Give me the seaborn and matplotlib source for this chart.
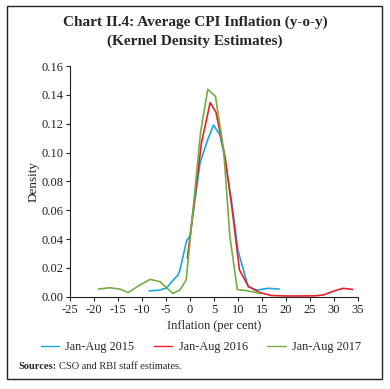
import numpy as np
import pandas as pd
import matplotlib
matplotlib.use("Agg")
import matplotlib.pyplot as plt
import seaborn as sns
from matplotlib.patches import Rectangle
from matplotlib.lines import Line2D

# --- data ---
x_2015 = [-8.5, -6.5, -4.9, -3.5, -2.5, -2.1, -0.7, 0.0, 2.1, 3.8, 4.9, 6.25, 7.3, 8.7, 10.0, 12.1, 13.9, 16.3, 18.6]
y_2015 = [0.004, 0.0045, 0.006, 0.0115, 0.015, 0.0185, 0.039, 0.042, 0.093, 0.110, 0.119, 0.112, 0.095, 0.065, 0.032, 0.007, 0.0046, 0.0058, 0.0053]

x_2016 = [-0.55, 2.4, 4.2, 5.4, 7.3, 8.8, 10.3, 12.2, 14.6, 17.0, 20.0, 23.0, 26.0, 27.8, 30.0, 31.9, 33.9]
y_2016 = [0.0266, 0.107, 0.1346, 0.128, 0.097, 0.060, 0.0185, 0.007, 0.0028, 0.0008, 0.0005, 0.0005, 0.0006, 0.0012, 0.004, 0.0058, 0.005]

x_2017 = [-19.1, -16.7, -14.5, -12.9, -10.5, -8.3, -6.25, -3.6, -2.1, -0.8, 2.2, 3.7, 5.3, 7.0, 8.3, 9.85, 11.8, 14.6]
y_2017 = [0.0053, 0.0062, 0.0052, 0.0028, 0.008, 0.012, 0.0104, 0.0023, 0.0046, 0.0116, 0.114, 0.1438, 0.139, 0.102, 0.042, 0.005, 0.0042, 0.0023]

series_names = ["Jan-Aug 2015", "Jan-Aug 2016", "Jan-Aug 2017"]
colors = ["#1ca6e0", "#e8202a", "#76ad42"]

x_ticks = [-25, -20, -15, -10, -5, 0, 5, 10, 15, 20, 25, 30, 35]
y_ticks = [0.00, 0.02, 0.04, 0.06, 0.08, 0.10, 0.12, 0.14, 0.16]

df = pd.concat([
    pd.DataFrame({"x": x_2015, "y": y_2015, "series": series_names[0]}),
    pd.DataFrame({"x": x_2016, "y": y_2016, "series": series_names[1]}),
    pd.DataFrame({"x": x_2017, "y": y_2017, "series": series_names[2]}),
], ignore_index=True)

sns.set_theme(style="ticks")
plt.rcParams["font.family"] = ["Liberation Serif", "DejaVu Serif"]

fig = plt.figure(figsize=(3.9, 3.89), dpi=100)
ax = fig.add_axes([0.1795, 0.2373, 0.7385, 0.593])

sns.lineplot(data=df, x="x", y="y", hue="series", palette=dict(zip(series_names, colors)),
             sort=False, estimator=None, linewidth=1.2, ax=ax, legend=False)

ax.set_xlim(-25, 35)
ax.set_ylim(0, 0.16)
ax.set_xticks(x_ticks)
ax.set_xticklabels([str(t) for t in x_ticks])
ax.set_yticks(y_ticks)
ax.set_yticklabels([f"{t:.2f}" for t in y_ticks])
ax.tick_params(axis="both", labelsize=9, length=3, width=0.8, pad=2, colors="#222222")
for s in ["top", "right"]:
    ax.spines[s].set_visible(False)
for s in ["left", "bottom"]:
    ax.spines[s].set_linewidth(0.8)
    ax.spines[s].set_color("#222222")

ax.set_xlabel("Inflation (per cent)", fontsize=9, labelpad=3)
ax.set_ylabel("Density", fontsize=9.5, labelpad=1)

# legend
handles = [Line2D([0], [0], color=c, lw=1.0) for c in colors]
fig.legend(handles, series_names, loc="center", bbox_to_anchor=(0.515, 0.108), ncol=3,
           frameon=False, fontsize=8.8, handlelength=1.5, handletextpad=0.5, columnspacing=1.6)

fig.text(0.5, 0.943, "Chart II.4: Average CPI Inflation (y-o-y)", ha="center", va="center",
         fontsize=11, fontweight="bold")
fig.text(0.5, 0.893, "(Kernel Density Estimates)", ha="center", va="center",
         fontsize=11, fontweight="bold")

fig.text(0.046, 0.059, "Sources:", ha="left", va="center", fontsize=7.5, fontweight="bold")
fig.text(0.152, 0.059, "CSO and RBI staff estimates.", ha="left", va="center", fontsize=7.5)

fig.patches.append(Rectangle((0.018, 0.026), 0.962, 0.958, transform=fig.transFigure,
                             fill=False, edgecolor="#222222", linewidth=1.0))

fig.savefig("out.png", dpi=100)
